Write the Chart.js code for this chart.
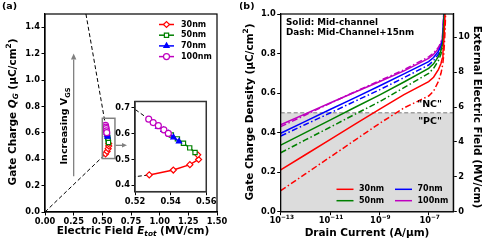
<!DOCTYPE html>
<html>
<head>
<meta charset="utf-8">
<script src="https://cdn.jsdelivr.net/npm/chart.js@4.4.0/dist/chart.umd.min.js"></script>
<style>
  body { margin: 0; background: #fff; width: 485px; height: 242px; position: relative; overflow: hidden; }
  canvas { position: absolute; }
</style>
</head>
<body>
<canvas id="chartA" width="240" height="242" style="left:0;top:0"></canvas>
<canvas id="chartB" width="245" height="242" style="left:240px;top:0"></canvas>
<canvas id="chartInset" width="106" height="112" style="left:112px;top:95px"></canvas>
<script>
const sizes = ['30nm', '50nm', '70nm', '100nm'];
const colors = ['#ff0000', '#008000', '#0000ff', '#bf00bf'];
const markers = ['rectRot', 'rect', 'triangle', 'circle'];

// panel (a): gate charge vs electric field
const field30 = [0.5280, 0.5415, 0.5508, 0.5557, 0.5552];
const charge30 = [0.440, 0.459, 0.480, 0.500, 0.518];
const field50 = [0.5404, 0.5438, 0.5472, 0.5507, 0.5537];
const charge50 = [0.595, 0.580, 0.563, 0.545, 0.527];
const field70 = [0.5330, 0.5360, 0.5388, 0.5416, 0.5447];
const charge70 = [0.627, 0.615, 0.601, 0.586, 0.570];
const field100 = [0.5277, 0.5302, 0.5331, 0.5362, 0.5387];
const charge100 = [0.6565, 0.643, 0.631, 0.615, 0.601];
const guideLowField = [0, 0.528];
const guideLowCharge = [0, 0.44];
const guideHighField = [0.357, 0.5277];
const guideHighCharge = [1.5, 0.6565];

const fieldTicksA = [0, 0.25, 0.5, 0.75, 1.0, 1.25, 1.5];
const chargeTicksA = [0, 0.2, 0.4, 0.6, 0.8, 1.0, 1.2, 1.4];
const insetFieldTicks = [0.52, 0.54, 0.56];
const insetChargeTicks = [0.4, 0.5, 0.6, 0.7];

// panel (b): gate charge density vs drain current (log10 A/um)
const logCurrent = [-13, -12, -11, -10, -9, -8, -7, -6.8, -6.6, -6.5, -6.45, -6.42, -6.39, -6.36, -6.33, -6.3];
const solid30 = [0.211, 0.288, 0.365, 0.442, 0.518, 0.592, 0.658, 0.680, 0.720, 0.750, 0.775, 0.805, 0.85, 0.92, 1.02, 1.2];
const dash30 = [0.106, 0.191, 0.276, 0.361, 0.446, 0.525, 0.585, 0.610, 0.660, 0.700, 0.730, 0.755, 0.79, 0.85, 0.93, 1.05];
const solid50 = [0.337, 0.400, 0.463, 0.527, 0.590, 0.656, 0.725, 0.748, 0.785, 0.815, 0.842, 0.878, 0.94, 1.03, 1.2, 1.5];
const dash50 = [0.298, 0.363, 0.427, 0.492, 0.556, 0.628, 0.700, 0.725, 0.765, 0.798, 0.826, 0.864, 0.92, 1.01, 1.15, 1.4];
const solid70 = [0.397, 0.457, 0.517, 0.576, 0.636, 0.697, 0.759, 0.780, 0.812, 0.838, 0.862, 0.898, 0.975, 1.08, 1.3, 1.5];
const dash70 = [0.383, 0.441, 0.499, 0.558, 0.616, 0.678, 0.742, 0.764, 0.798, 0.826, 0.852, 0.888, 0.96, 1.06, 1.25, 1.5];
const solid100 = [0.440, 0.495, 0.550, 0.604, 0.657, 0.712, 0.775, 0.795, 0.825, 0.850, 0.875, 0.910, 0.99, 1.1, 1.3, 1.5];
const dash100 = [0.430, 0.489, 0.548, 0.606, 0.662, 0.718, 0.783, 0.802, 0.832, 0.857, 0.882, 0.918, 1.0, 1.1, 1.3, 1.5];

const currentTicks = [-13, -11, -9, -7];
const densityTicks = [0, 0.2, 0.4, 0.6, 0.8, 1.0];
const extFieldTicks = [0, 2, 4, 6, 8, 10];

const FONT = '"DejaVu Sans", sans-serif';
Chart.defaults.font.family = FONT;
Chart.defaults.font.weight = 'bold';
Chart.defaults.color = '#000';

function pts(xs, ys) { return xs.map((x, i) => ({ x: x, y: ys[i] })); }

function axis(pos, min, max, ticks, fmt, size, extra) {
  return Object.assign({
    type: 'linear', position: pos, min: min, max: max, display: true,
    afterBuildTicks: s => { s.ticks = ticks.map(v => ({ value: v })); },
    afterFit: s => { if (s.isHorizontal()) s.height = size; else s.width = size; },
    ticks: { callback: fmt, font: { size: 8.3, weight: 'bold' }, color: '#000', padding: 1.5, autoSkip: false, maxRotation: 0 },
    grid: { display: true, drawOnChartArea: false, drawTicks: true, tickLength: 3.5, tickWidth: 1, color: '#000' },
    border: { display: true, color: '#000', width: 1.2 }
  }, extra || {});
}

// text with italic / sub / superscript parts, centred on (x, y)
function richText(ctx, parts, x, y, angle, size) {
  const fonts = {
    '': 'bold ' + size + 'px ' + FONT,
    'i': 'italic bold ' + size + 'px ' + FONT,
    'sub': 'bold ' + (size * 0.7) + 'px ' + FONT,
    'isub': 'italic bold ' + (size * 0.7) + 'px ' + FONT,
    'sup': 'bold ' + (size * 0.7) + 'px ' + FONT
  };
  const shift = { '': 0, 'i': 0, 'sub': size * 0.3, 'isub': size * 0.3, 'sup': -size * 0.38 };
  ctx.save();
  ctx.translate(x, y);
  ctx.rotate(angle);
  ctx.fillStyle = '#000';
  ctx.textBaseline = 'middle';
  ctx.textAlign = 'left';
  let total = 0;
  parts.forEach(p => { ctx.font = fonts[p[1]]; total += ctx.measureText(p[0]).width; });
  let cx = -total / 2;
  parts.forEach(p => {
    ctx.font = fonts[p[1]];
    ctx.fillText(p[0], cx, shift[p[1]]);
    cx += ctx.measureText(p[0]).width;
  });
  ctx.restore();
}

function arrow(ctx, x1, y1, x2, y2, color, head) {
  const a = Math.atan2(y2 - y1, x2 - x1);
  ctx.save();
  ctx.strokeStyle = color;
  ctx.fillStyle = color;
  ctx.lineWidth = 1.3;
  ctx.beginPath();
  ctx.moveTo(x1, y1);
  ctx.lineTo(x2 - Math.cos(a) * head, y2 - Math.sin(a) * head);
  ctx.stroke();
  ctx.beginPath();
  ctx.moveTo(x2, y2);
  ctx.lineTo(x2 - Math.cos(a) * head - Math.sin(a) * head * 0.45, y2 - Math.sin(a) * head + Math.cos(a) * head * 0.45);
  ctx.lineTo(x2 - Math.cos(a) * head + Math.sin(a) * head * 0.45, y2 - Math.sin(a) * head - Math.cos(a) * head * 0.45);
  ctx.closePath();
  ctx.fill();
  ctx.restore();
}

const framePlugin = {
  id: 'frame',
  afterDraw(chart, args, opts) {
    const a = chart.chartArea, ctx = chart.ctx;
    ctx.save();
    ctx.strokeStyle = opts.color || '#000';
    ctx.lineWidth = opts.width || 1.2;
    ctx.strokeRect(a.left, a.top, a.right - a.left, a.bottom - a.top);
    ctx.restore();
  }
};

function guideSets() {
  return [
    { data: pts(guideLowField, guideLowCharge), borderColor: '#000', borderWidth: 1, borderDash: [4, 2.5], pointRadius: 0, order: 10 },
    { data: pts(guideHighField, guideHighCharge), borderColor: '#000', borderWidth: 1, borderDash: [4, 2.5], pointRadius: 0, order: 10 }
  ];
}

function markerSets() {
  const fields = [field30, field50, field70, field100];
  const charges = [charge30, charge50, charge70, charge100];
  return sizes.map((name, i) => ({
    label: name,
    data: pts(fields[i], charges[i]),
    borderColor: colors[i],
    borderWidth: 1.5,
    pointStyle: markers[i],
    pointRadius: 3,
    pointBorderWidth: 1.2,
    pointBorderColor: colors[i],
    pointBackgroundColor: i === 2 ? colors[i] : '#fff',
    order: 4 - i
  }));
}

// ---------- panel (a) ----------
const decorA = {
  id: 'decorA',
  afterDatasetsDraw(chart) {
    const ctx = chart.ctx, x = chart.scales.x, y = chart.scales.y;
    // box around the zoomed points
    ctx.save();
    ctx.strokeStyle = '#808080';
    ctx.lineWidth = 1.5;
    const l = x.getPixelForValue(0.5), r = x.getPixelForValue(0.61);
    const t = y.getPixelForValue(0.71), b = y.getPixelForValue(0.405);
    ctx.strokeRect(l, t, r - l, b - t);
    ctx.restore();
    arrow(ctx, x.getPixelForValue(0.615), y.getPixelForValue(0.505), x.getPixelForValue(0.715), y.getPixelForValue(0.505), '#808080', 5);
    arrow(ctx, x.getPixelForValue(0.25), y.getPixelForValue(0.27), x.getPixelForValue(0.25), y.getPixelForValue(1.2), '#808080', 6);
  },
  afterDraw(chart) {
    const ctx = chart.ctx;
    richText(ctx, [['Increasing V', ''], ['GS', 'sub']], 65, 126, -Math.PI / 2, 9.5);
    richText(ctx, [['Gate Charge ', ''], ['Q', 'i'], ['G', 'isub'], [' (\u03bcC/cm', ''], ['2', 'sup'], [')', '']], 13, 112, -Math.PI / 2, 10.5);
    richText(ctx, [['Electric Field ', ''], ['E', 'i'], ['tot', 'isub'], [' (MV/cm)', '']], 133, 231, 0, 10.5);
    ctx.save();
    ctx.font = 'bold 9.5px ' + FONT;
    ctx.textBaseline = 'middle';
    ctx.fillStyle = '#000';
    ctx.fillText('(a)', 2, 7);
    // legend
    sizes.forEach((name, i) => {
      const ly = 24.5 + i * 10.7;
      ctx.strokeStyle = colors[i];
      ctx.lineWidth = 1.5;
      ctx.beginPath(); ctx.moveTo(159, ly); ctx.lineTo(174, ly); ctx.stroke();
      ctx.fillStyle = i === 2 ? colors[i] : '#fff';
      ctx.lineWidth = 1.2;
      Chart.helpers.drawPoint(ctx, { pointStyle: markers[i], radius: 3, borderWidth: 1.2, rotation: 0 }, 166.5, ly);
      ctx.fillStyle = '#000';
      ctx.font = 'bold 8px ' + FONT;
      ctx.fillText(name, 181, ly);
    });
    ctx.restore();
  }
};

new Chart(document.getElementById('chartA'), {
  type: 'line',
  data: { datasets: guideSets().concat(markerSets()) },
  options: {
    responsive: false, animation: false, devicePixelRatio: 1, events: [],
    layout: { padding: { top: 14, right: 23, left: 0, bottom: 0 } },
    scales: {
      x: axis('bottom', 0, 1.5, fieldTicksA, v => v.toFixed(2), 30),
      y: axis('left', 0, 1.5, chargeTicksA, v => v.toFixed(1), 45)
    },
    plugins: { legend: { display: false }, tooltip: { enabled: false }, frame: { width: 1.2 } }
  },
  plugins: [framePlugin, decorA]
});

// ---------- inset ----------
const insetBg = {
  id: 'insetBg',
  beforeDraw(chart) {
    const a = chart.chartArea, ctx = chart.ctx;
    ctx.save();
    ctx.fillStyle = '#fff';
    ctx.fillRect(a.left, a.top, a.right - a.left, a.bottom - a.top);
    ctx.restore();
  }
};

new Chart(document.getElementById('chartInset'), {
  type: 'line',
  data: { datasets: guideSets().concat(markerSets()) },
  options: {
    responsive: false, animation: false, devicePixelRatio: 1, events: [],
    layout: { padding: { top: 6, right: 4.7, left: 0, bottom: 0 } },
    scales: {
      x: axis('bottom', 0.52, 0.56, insetFieldTicks, v => v.toFixed(2), 15.3),
      y: axis('left', 0.375, 0.725, insetChargeTicks, v => v.toFixed(1), 23)
    },
    plugins: { legend: { display: false }, tooltip: { enabled: false }, frame: { width: 1.5, color: '#333' } }
  },
  plugins: [insetBg, framePlugin]
});

// ---------- panel (b) ----------
const solids = [solid30, solid50, solid70, solid100];
const dashes = [dash30, dash50, dash70, dash100];
const currents = logCurrent.map(e => Math.pow(10, e));
const setsB = [];
sizes.forEach((name, i) => {
  setsB.push({ label: name, data: pts(currents, solids[i]), borderColor: colors[i], borderWidth: 1.5, pointRadius: 0, yAxisID: 'y' });
});
sizes.forEach((name, i) => {
  setsB.push({ label: name + ' dash', data: pts(currents, dashes[i]), borderColor: colors[i], borderWidth: 1.5,
    borderDash: [6, 2.5, 1.5, 2.5], pointRadius: 0, yAxisID: 'y' });
});

const decorB = {
  id: 'decorB',
  beforeDatasetsDraw(chart) {
    const a = chart.chartArea, ctx = chart.ctx, y = chart.scales.y;
    const py = y.getPixelForValue(0.5);
    ctx.save();
    ctx.fillStyle = '#dcdcdc';
    ctx.fillRect(a.left, py, a.right - a.left, a.bottom - py);
    ctx.strokeStyle = '#a0a0a0';
    ctx.lineWidth = 1.5;
    ctx.setLineDash([4, 2.5]);
    ctx.beginPath(); ctx.moveTo(a.left, py); ctx.lineTo(a.right, py); ctx.stroke();
    ctx.restore();
  },
  afterDraw(chart) {
    const ctx = chart.ctx, x = chart.scales.x;
    // log tick labels as 10 with a raised exponent
    currentTicks.forEach(e => {
      richText(ctx, [['10', ''], ['\u2212' + Math.abs(e), 'sup']], x.getPixelForValue(Math.pow(10, e)) + 1, 220.5, 0, 8.3);
    });
    richText(ctx, [['Gate Charge Density (\u03bcC/cm', ''], ['2', 'sup'], [')', '']], 10, 112, -Math.PI / 2, 10.5);
    richText(ctx, [['External Electric Field (MV/cm)', '']], 236.5, 117, Math.PI / 2, 10.5);
    richText(ctx, [['Drain Current (A/\u03bcm)', '']], 127, 233, 0, 10.5);
    ctx.save();
    ctx.fillStyle = '#000';
    ctx.textBaseline = 'middle';
    ctx.font = 'bold 9.5px ' + FONT;
    ctx.fillText('(b)', -1, 7);
    ctx.font = 'bold 8.8px ' + FONT;
    ctx.fillText('Solid: Mid-channel', 46, 22.7);
    ctx.fillText('Dash: Mid-Channel+15nm', 46, 32.5);
    ctx.textAlign = 'right';
    ctx.font = 'bold 9.5px ' + FONT;
    ctx.fillText('"NC"', 202, 105);
    ctx.fillText('"PC"', 202, 121.5);
    ctx.textAlign = 'left';
    // legend, two columns
    ctx.font = 'bold 8px ' + FONT;
    sizes.forEach((name, i) => {
      const col = Math.floor(i / 2), row = i % 2;
      const lx = 96.5 + col * 58.5, ly = 189.3 + row * 11.4;
      ctx.strokeStyle = colors[i];
      ctx.lineWidth = 1.5;
      ctx.beginPath(); ctx.moveTo(lx, ly); ctx.lineTo(lx + 17, ly); ctx.stroke();
      ctx.fillStyle = '#000';
      ctx.fillText(name, lx + 22.5, ly);
    });
    ctx.restore();
  }
};

new Chart(document.getElementById('chartB'), {
  type: 'line',
  data: { datasets: setsB },
  options: {
    responsive: false, animation: false, devicePixelRatio: 1, events: [],
    layout: { padding: { top: 14, right: 0, left: 0, bottom: 0 } },
    scales: {
      x: axis('bottom', 1e-13, 1e-6, currentTicks.map(e => Math.pow(10, e)), () => '', 30.3, { type: 'logarithmic' }),
      y: axis('left', 0, 1, densityTicks, v => v.toFixed(1), 40.7),
      y2: axis('right', 0, 11.33, extFieldTicks, v => String(v), 31.7)
    },
    plugins: { legend: { display: false }, tooltip: { enabled: false }, frame: { width: 1.2 } }
  },
  plugins: [decorB, framePlugin]
});
</script>
</body>
</html>
